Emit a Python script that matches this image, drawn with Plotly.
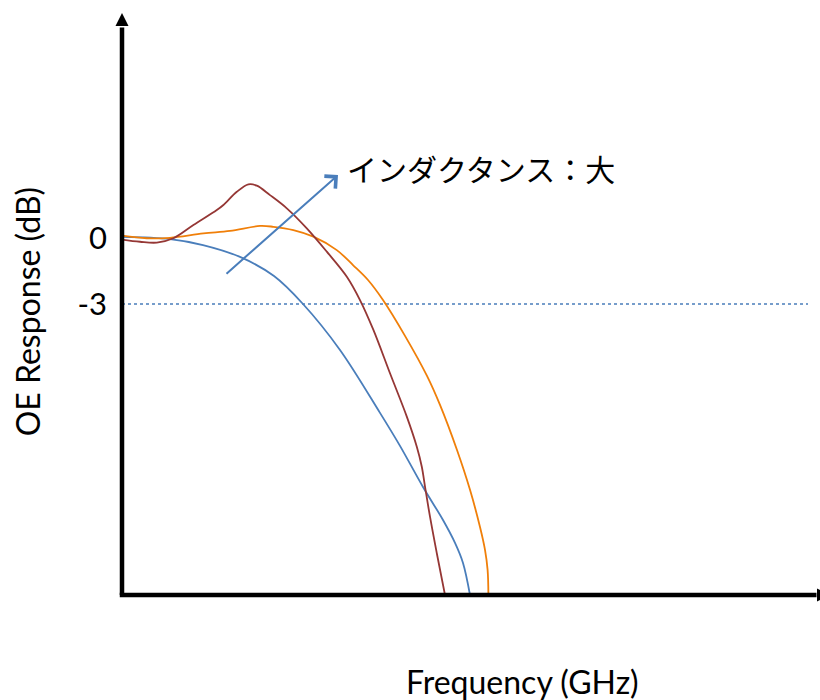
import plotly.graph_objects as go

# Frequency (arbitrary GHz units) and optical-electrical response (dB) for three inductance values
freq_small = [0, 2.4, 4.05, 5.9, 7.6, 9.05, 10.9, 12.9, 13.9, 15.05, 16.05, 16.65, 17.05, 17.4]
resp_small = [0.05, -0.05, -0.32, -0.86, -1.73, -3.0, -5.09, -7.95, -9.45, -11.32, -12.82, -13.86, -14.77, -16.23]

freq_mid = [0, 1.24, 2.4, 4.07, 5.4, 6.9, 7.57, 8.57, 9.57, 10.74, 11.55, 12.3, 13.05, 14.15, 15.25, 15.9, 16.75, 17.4, 17.9, 18.15, 18.28, 18.32]
resp_mid = [0.11, -0.01, 0.01, 0.21, 0.32, 0.55, 0.51, 0.36, 0.06, -0.55, -1.23, -1.91, -2.82, -4.45, -6.27, -7.59, -9.64, -11.45, -13.14, -14.18, -15.09, -16.23]

freq_large = [0, 0.9, 1.74, 2.57, 3.57, 4.74, 5.07, 5.74, 6.32, 6.74, 7.4, 8.24, 9.24, 10.24, 11.25, 11.9, 12.57, 13.4, 14.24, 14.74, 14.99, 15.15, 15.4, 15.74, 16.15]
resp_large = [-0.07, -0.17, -0.21, -0.01, 0.59, 1.27, 1.5, 2.1, 2.44, 2.38, 1.95, 1.35, 0.44, -0.62, -1.77, -2.82, -4.18, -6.15, -8.12, -9.49, -10.4, -11.3, -12.67, -14.33, -16.23]

# -3 dB reference level
ref_level = -3
ref_span = [0, 34.3]

# Trend arrow (tail -> head) and its label
trend_tail = (5.15, -1.68)
trend_head = (10.8, 2.86)
trend_label = "インダクタンス：大"

tick_vals = [0, -3]
tick_text = ["0", "-3"]

X_RANGE = [0, 34.9]
Y_RANGE = [-16.23, 10.23]

BLUE = "#4A7EBB"
RED = "#953735"
ORANGE = "#F07F09"
TXT_FONT = "Lato, 'Open Sans', sans-serif"

fig = go.Figure()

fig.add_trace(go.Scatter(x=ref_span, y=[ref_level, ref_level], mode="lines",
                         line=dict(color=BLUE, width=1.3, dash="dot"),
                         hoverinfo="skip", showlegend=False))

for fx, ry, col in [(freq_small, resp_small, BLUE),
                    (freq_mid, resp_mid, ORANGE),
                    (freq_large, resp_large, RED)]:
    fig.add_trace(go.Scatter(x=fx, y=ry, mode="lines",
                             line=dict(color=col, width=1.8, shape="spline", smoothing=1.0),
                             showlegend=False, cliponaxis=False))

# Trend arrow
fig.add_annotation(x=trend_head[0], y=trend_head[1], ax=trend_tail[0], ay=trend_tail[1],
                   xref="x", yref="y", axref="x", ayref="y", text="",
                   showarrow=True, arrowhead=4, arrowsize=1.6, arrowwidth=2,
                   arrowcolor=BLUE, standoff=0, startstandoff=0)
fig.add_annotation(x=trend_head[0] + 0.35, y=trend_head[1] + 0.32, xref="x", yref="y",
                   text=trend_label, showarrow=False, xanchor="left", yanchor="middle",
                   font=dict(family="'Noto Sans CJK JP'", size=30, color="black"))

# Axis titles
fig.add_annotation(x=0.574, y=-0.149, xref="paper", yref="paper", text="Frequency (GHz)",
                   showarrow=False, xanchor="center", yanchor="middle",
                   font=dict(family=TXT_FONT, size=32, color="black"))
fig.add_annotation(x=-0.135, y=0.487, xref="paper", yref="paper", text="OE Response (dB)",
                   showarrow=False, textangle=-90, xanchor="center", yanchor="middle",
                   font=dict(family=TXT_FONT, size=32, color="black"))

# Axis lines with arrowheads
fig.add_shape(type="line", xref="paper", yref="paper", x0=0, x1=0, y0=0, y1=0.975,
              line=dict(color="black", width=4.5))
fig.add_shape(type="line", xref="paper", yref="paper", x0=-0.0032, x1=0.995, y0=0, y1=0,
              line=dict(color="black", width=4.5))
fig.add_shape(type="path", xref="paper", yref="paper", xsizemode="pixel", ysizemode="pixel",
              xanchor=0, yanchor=1, path="M-6.5,-13 L6.5,-13 L0,0 Z",
              fillcolor="black", line=dict(width=0))
fig.add_shape(type="path", xref="paper", yref="paper", xsizemode="pixel", ysizemode="pixel",
              xanchor=1, yanchor=0, path="M-3,6.5 L10,0 L-3,-6.5 Z",
              fillcolor="black", line=dict(width=0))

fig.update_layout(
    width=820, height=700,
    margin=dict(l=122, r=0, t=13, b=105),
    paper_bgcolor="white", plot_bgcolor="white",
    xaxis=dict(range=X_RANGE, showgrid=False, zeroline=False, showline=False,
               showticklabels=False, ticks=""),
    yaxis=dict(range=Y_RANGE, showgrid=False, zeroline=False, showline=False,
               tickvals=tick_vals, ticktext=tick_text, ticks="", ticklabelstandoff=14,
               tickfont=dict(family=TXT_FONT, size=31, color="black")),
)

fig.write_html("out.html")
